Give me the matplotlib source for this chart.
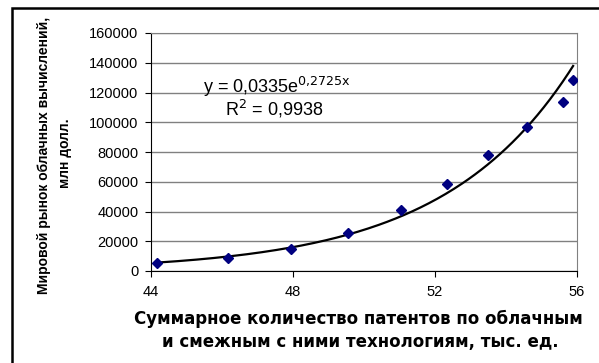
import numpy as np
import matplotlib
matplotlib.use("Agg")
import matplotlib.pyplot as plt
from matplotlib.patches import Rectangle

# patents, thousands (x) vs cloud market, mln USD (y)
patents = [44.17, 46.17, 47.94, 49.55, 51.04, 52.34, 53.49, 54.59, 55.6, 55.89]
market = [5400, 8800, 14800, 25500, 41000, 58500, 78000, 96800, 113600, 128400]
coef_a = 0.0335
coef_b = 0.2725
x_ticks = [44, 48, 52, 56]
y_ticks = [0, 20000, 40000, 60000, 80000, 100000, 120000, 140000, 160000]

plt.rcParams['font.family'] = ['Liberation Sans', 'DejaVu Sans']

fig = plt.figure(figsize=(5.99, 3.63), dpi=100)
W, H = 599, 363
ax = fig.add_axes([151 / W, 1 - 271 / H, (577 - 151) / W, (271 - 33) / H])

# outer chart frame (cut at right and bottom)
fig.patches.append(Rectangle((12 / W, -0.1), 1.2, 1 - 8 / H + 0.1,
                             transform=fig.transFigure, fill=False,
                             edgecolor='black', linewidth=1.8))

xs = np.linspace(min(patents), max(patents), 200)
ax.plot(xs, coef_a * np.exp(coef_b * xs), color='black', lw=1.6, zorder=2)
ax.plot(patents, market, linestyle='none', marker='D', ms=5.5,
        color='#000080', zorder=3)

ax.set_xlim(44, 56)
ax.set_ylim(0, 160000)
ax.set_xticks(x_ticks)
ax.set_yticks(y_ticks)
ax.set_yticklabels([str(v) for v in y_ticks])
ax.tick_params(labelsize=10.5, direction='out', length=4, color='black')
ax.tick_params(axis='x', pad=6)
ax.tick_params(axis='y', pad=5)
ax.grid(axis='y', color='#808080', lw=1)
ax.set_axisbelow(True)
for s in ['top', 'right']:
    ax.spines[s].set_color('#808080')
for s in ['left', 'bottom']:
    ax.spines[s].set_color('black')

ax.text(0.295, 0.775, r'y = 0,0335e$^{\mathrm{0{,}2725x}}$', transform=ax.transAxes,
        fontsize=13, ha='center', va='center')
ax.text(0.29, 0.68, r'R$^{\mathrm{2}}$ = 0,9938', transform=ax.transAxes,
        fontsize=13, ha='center', va='center')

ylab_font = ['Liberation Sans Narrow', 'Liberation Sans', 'DejaVu Sans']
fig.text(44 / W, 1 - 155 / H, 'Мировой рынок облачных вычислений,',
         rotation=90, ha='center', va='center', fontsize=10,
         fontweight='bold', family=ylab_font)
fig.text(65 / W, 1 - 153 / H, 'млн долл.', rotation=90, ha='center',
         va='center', fontsize=10, fontweight='bold', family=ylab_font)

xlab_font = ['DejaVu Sans']
fig.text(358 / W, 1 - 319 / H, 'Суммарное количество патентов по облачным',
         ha='center', va='center', fontsize=12, fontweight='bold',
         family=xlab_font)
fig.text(360 / W, 1 - 342 / H, 'и смежным с ними технологиям, тыс. ед.',
         ha='center', va='center', fontsize=12, fontweight='bold',
         family=xlab_font)

fig.savefig('out.png', dpi=100)
